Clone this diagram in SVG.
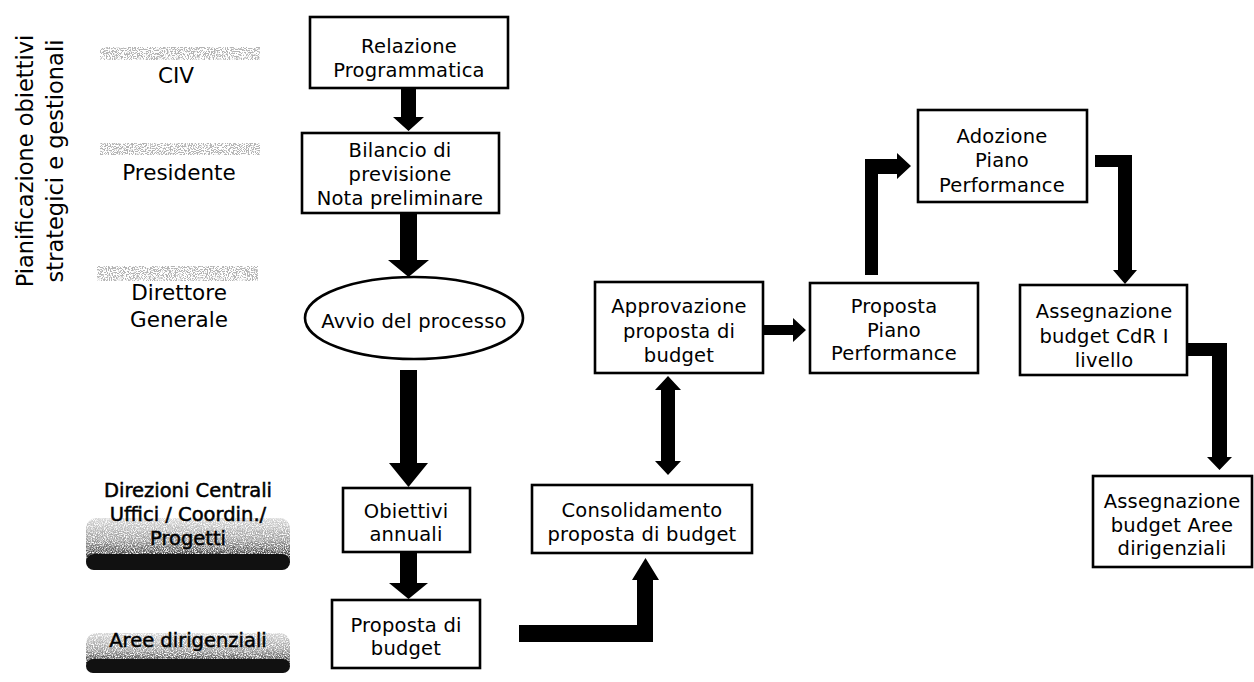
<svg xmlns="http://www.w3.org/2000/svg" width="1254" height="682" viewBox="0 0 1254 682">
<style>
.box{fill:#fff;stroke:#000;stroke-width:2.6}
.t{font-family:"DejaVu Sans",Verdana,sans-serif;font-size:19.5px;letter-spacing:0.2px;fill:#000;text-anchor:middle}
.lbl{font-family:"DejaVu Sans",Verdana,sans-serif;font-size:21.5px;fill:#000;text-anchor:middle}
.lblb{font-family:"DejaVu Sans",Verdana,sans-serif;font-size:19.5px;fill:#000;stroke:#000;stroke-width:0.5;text-anchor:middle}
.side{font-family:"DejaVu Sans",Verdana,sans-serif;font-size:22.5px;fill:#000;text-anchor:middle}
.arr{fill:#000}
.band{fill:#b4b4b4}
</style>
<defs>
<filter id="speckle" x="0" y="0" width="1" height="1">
<feTurbulence type="fractalNoise" baseFrequency="0.9" numOctaves="2" seed="3" result="n"/>
<feColorMatrix in="n" type="matrix" values="0 0 0 0 0 0 0 0 0 0 0 0 0 0 0 0 0 0 -3 2.2" result="m"/>
<feComposite in="SourceGraphic" in2="m" operator="in"/>
</filter>
<filter id="speckleLight" x="0" y="0" width="1" height="1">
<feTurbulence type="fractalNoise" baseFrequency="0.95" numOctaves="2" seed="7" result="n"/>
<feColorMatrix in="n" type="matrix" values="0 0 0 0 0 0 0 0 0 0 0 0 0 0 0 0 0 0 -9 4.8" result="m"/>
<feComposite in="SourceGraphic" in2="m" operator="in"/>
</filter>
<linearGradient id="dark" x1="0" y1="0" x2="0" y2="1">
<stop offset="0" stop-color="#d8d8d8"/>
<stop offset="0.45" stop-color="#999"/>
<stop offset="0.75" stop-color="#333"/>
<stop offset="1" stop-color="#000"/>
</linearGradient>
</defs>

<g id="side-title">
<text class="side" transform="translate(33,161) rotate(-90)">Pianificazione obiettivi</text>
<text class="side" transform="translate(63,161) rotate(-90)">strategici e gestionali</text>
</g>

<g id="lbl-civ">
<rect class="band" x="100" y="47" width="160" height="13" filter="url(#speckleLight)"/>
<text class="lbl" x="176" y="83">CIV</text>
</g>
<g id="lbl-presidente">
<rect class="band" x="100" y="143" width="160" height="12" filter="url(#speckleLight)"/>
<text class="lbl" x="179" y="180">Presidente</text>
</g>
<g id="lbl-direttore">
<rect class="band" x="97" y="266" width="161" height="15" filter="url(#speckleLight)"/>
<text class="lbl" x="179" y="300">Direttore</text>
<text class="lbl" x="179" y="327">Generale</text>
</g>
<g id="lbl-direzioni">
<rect x="86" y="518" width="204" height="52" rx="10" fill="url(#dark)" filter="url(#speckle)"/>
<rect x="86" y="554" width="204" height="16" rx="8" fill="#111"/>
<text class="lblb" x="188" y="497">Direzioni Centrali</text>
<text class="lblb" x="188" y="521">Uffici / Coordin./</text>
<text class="lblb" x="188" y="545">Progetti</text>
</g>
<g id="lbl-aree">
<rect x="86" y="633" width="204" height="40" rx="10" fill="url(#dark)" filter="url(#speckle)"/>
<rect x="86" y="659" width="204" height="14" rx="7" fill="#111"/>
<text class="lblb" x="188" y="647">Aree dirigenziali</text>
</g>

<g id="connectors">
<polygon class="arr" points="401,88 416,88 416,117 424,117 408.5,131 393,117 401,117"/>
<polygon class="arr" points="400,213 417,213 417,260 429,260 408.5,277 388,260 400,260"/>
<polygon class="arr" points="400,370 417,370 417,463 428,463 408.5,487 389,463 400,463"/>
<polygon class="arr" points="400,552 417,552 417,583 428,583 408.5,599 389,583 400,583"/>
<polygon class="arr" points="519,625 637,625 637,580 632,580 645.5,558 659,580 653,580 653,642 519,642"/>
<polygon class="arr" points="668,376 681,390 675,390 675,461 681,461 668,475 655,461 661,461 661,390 655,390"/>
<polygon class="arr" points="763,325 793,325 793,318 806,330 793,342 793,335 763,335"/>
<polygon class="arr" points="865,275 865,159 897,159 897,153 911,166 897,179 897,174 878,174 878,275"/>
<polygon class="arr" points="1095,155 1132,155 1132,270 1137,270 1125,284 1113,270 1118,270 1118,167 1095,167"/>
<polygon class="arr" points="1187,343 1227,343 1227,457 1232,457 1219.5,470 1207,457 1212,457 1212,356 1187,356"/>
</g>

<g id="n-relazione">
<rect class="box" x="310" y="17" width="198" height="71"/>
<text class="t" x="409" y="53">Relazione</text>
<text class="t" x="409" y="77">Programmatica</text>
</g>
<g id="n-bilancio">
<rect class="box" x="302" y="133" width="197" height="80"/>
<text class="t" x="400" y="157">Bilancio di</text>
<text class="t" x="400" y="181">previsione</text>
<text class="t" x="400" y="205">Nota preliminare</text>
</g>
<g id="n-avvio">
<ellipse class="box" cx="414" cy="318" rx="109" ry="41"/>
<text class="t" x="414" y="328">Avvio del processo</text>
</g>
<g id="n-obiettivi">
<rect class="box" x="343" y="488" width="127" height="64"/>
<text class="t" x="406" y="518">Obiettivi</text>
<text class="t" x="406" y="541">annuali</text>
</g>
<g id="n-proposta">
<rect class="box" x="332" y="600" width="148" height="68"/>
<text class="t" x="406" y="632">Proposta di</text>
<text class="t" x="406" y="655">budget</text>
</g>
<g id="n-consolidamento">
<rect class="box" x="532" y="485" width="220" height="68"/>
<text class="t" x="642" y="517">Consolidamento</text>
<text class="t" x="642" y="541">proposta di budget</text>
</g>
<g id="n-approvazione">
<rect class="box" x="595" y="282" width="168" height="91"/>
<text class="t" x="679" y="313">Approvazione</text>
<text class="t" x="679" y="338">proposta di</text>
<text class="t" x="679" y="362">budget</text>
</g>
<g id="n-proposta-piano">
<rect class="box" x="810" y="283" width="168" height="90"/>
<text class="t" x="894" y="313">Proposta</text>
<text class="t" x="894" y="337">Piano</text>
<text class="t" x="894" y="360">Performance</text>
</g>
<g id="n-adozione">
<rect class="box" x="918" y="110" width="169" height="92"/>
<text class="t" x="1002" y="143">Adozione</text>
<text class="t" x="1002" y="167">Piano</text>
<text class="t" x="1002" y="192">Performance</text>
</g>
<g id="n-ass-cdr">
<rect class="box" x="1020" y="285" width="167" height="90"/>
<text class="t" x="1104" y="318">Assegnazione</text>
<text class="t" x="1104" y="343">budget CdR I</text>
<text class="t" x="1104" y="367">livello</text>
</g>
<g id="n-ass-aree">
<rect class="box" x="1093" y="476" width="159" height="91"/>
<text class="t" x="1172" y="508">Assegnazione</text>
<text class="t" x="1172" y="532">budget Aree</text>
<text class="t" x="1172" y="555">dirigenziali</text>
</g>
</svg>
